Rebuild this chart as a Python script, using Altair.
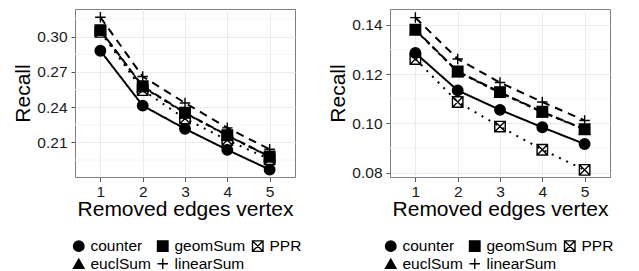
import altair as alt
import pandas as pd

# ---------------- data ----------------
steps = [1, 2, 3, 4, 5]
series_names = ["counter", "euclSum", "geomSum", "linearSum", "PPR"]

left_counter = [0.2880, 0.2413, 0.2216, 0.2037, 0.1869]
left_euclSum = [0.3052, 0.2571, 0.2350, 0.2158, 0.1977]
left_geomSum = [0.3055, 0.2578, 0.2353, 0.2161, 0.1980]
left_linearSum = [0.3165, 0.2661, 0.2436, 0.2224, 0.2042]
left_PPR = [0.3040, 0.2545, 0.2303, 0.2120, 0.1957]

right_counter = [0.1286, 0.1134, 0.1055, 0.0984, 0.0916]
right_euclSum = [0.1379, 0.1209, 0.1125, 0.1045, 0.0975]
right_geomSum = [0.1381, 0.1211, 0.1127, 0.1047, 0.0976]
right_linearSum = [0.1430, 0.1262, 0.1166, 0.1087, 0.1012]
right_PPR = [0.1262, 0.1087, 0.0987, 0.0893, 0.0811]

left_ticks = [0.21, 0.24, 0.27, 0.30]
left_minor = [0.195, 0.225, 0.255, 0.285, 0.315]
left_domain = [0.1806, 0.3235]

right_ticks = [0.08, 0.10, 0.12, 0.14]
right_minor = [0.09, 0.11, 0.13]
right_domain = [0.0782, 0.1465]

PLUS = "M-1,0L1,0M0,-1L0,1"
BOXX = "M-1,-1L1,-1L1,1L-1,1ZM-1,-1L1,1M-1,1L1,-1"
shape_range = ["circle", "triangle-up", "square", PLUS, BOXX]
fill_range = ["black", "black", "black", "transparent", "transparent"]
stroke_range = ["black"] * 5
size_range = [110, 110, 110, 200, 100]

# line types (own domain order so the line scale stays out of the symbol legend)
dash_domain = ["PPR", "counter", "euclSum", "geomSum", "linearSum"]
dash_range = [[2, 6], [1, 0], [4, 4], [8, 4], [8, 6]]

FONT = "Liberation Sans"


def long_df(d, order):
    rows = []
    for s in order:
        for x, v in zip(steps, d[s]):
            rows.append({"step": x, "series": s, "recall": v})
    return pd.DataFrame(rows)


def panel(values, ticks, minor, domain, legend_x):
    line_df = long_df(values, ["counter", "PPR", "euclSum", "geomSum", "linearSum"])
    point_df = long_df(values, ["PPR", "counter", "euclSum", "geomSum", "linearSum"])
    minor_df = pd.DataFrame({"m": minor})

    yscale = alt.Scale(domain=domain, nice=False, zero=False)
    xscale = alt.Scale(type="point", padding=0.6)
    xaxis = alt.Axis(
        title="Removed edges vertex", labelAngle=0, grid=True, gridColor="#EBEBEB",
        domain=False, tickColor="#555555", tickSize=4.5, labelPadding=3,
        labelFont=FONT, labelFontSize=15.5, labelColor="#1a1a1a",
        titleFont=FONT, titleFontSize=21, titleFontWeight="normal",
        titleColor="black", titlePadding=-2,
    )
    yaxis = alt.Axis(
        title="Recall", values=ticks, format=".2f", grid=True, gridColor="#EBEBEB",
        domain=False, tickColor="#555555", tickSize=4, labelPadding=4,
        labelFont=FONT, labelFontSize=15.5, labelColor="#1a1a1a",
        titleFont=FONT, titleFontSize=21, titleFontWeight="normal",
        titleColor="black", titlePadding=3,
    )
    leg = alt.Legend(
        orient="none", legendX=legend_x, legendY=229, columns=3, title=None,
        labelFont=FONT, labelFontSize=15.5, labelColor="black", labelOffset=4,
        columnPadding=3, rowPadding=0, symbolStrokeWidth=1.4,
    )

    rules = alt.Chart(minor_df).mark_rule(color="#F4F4F4", strokeWidth=1).encode(
        y=alt.Y("m:Q", scale=yscale, axis=yaxis)
    )
    lines = alt.Chart(line_df).mark_line(color="black", strokeWidth=2).encode(
        x=alt.X("step:O", scale=xscale, axis=xaxis),
        y=alt.Y("recall:Q", scale=yscale, axis=yaxis),
        strokeDash=alt.StrokeDash(
            "series:N", scale=alt.Scale(domain=dash_domain, range=dash_range), legend=None
        ),
        detail="series:N",
    )
    points = alt.Chart(point_df).mark_point(strokeWidth=1.4, opacity=1).encode(
        x=alt.X("step:O", scale=xscale, axis=xaxis),
        y=alt.Y("recall:Q", scale=yscale, axis=yaxis),
        shape=alt.Shape("series:N", scale=alt.Scale(domain=series_names, range=shape_range), legend=leg),
        fill=alt.Fill("series:N", scale=alt.Scale(domain=series_names, range=fill_range), legend=leg),
        stroke=alt.Stroke("series:N", scale=alt.Scale(domain=series_names, range=stroke_range), legend=leg),
        size=alt.Size("series:N", scale=alt.Scale(domain=series_names, range=size_range), legend=leg),
    )
    return alt.layer(rules, lines, points).properties(width=220, height=168)


left_vals = {
    "counter": left_counter, "euclSum": left_euclSum, "geomSum": left_geomSum,
    "linearSum": left_linearSum, "PPR": left_PPR,
}
right_vals = {
    "counter": right_counter, "euclSum": right_euclSum, "geomSum": right_geomSum,
    "linearSum": right_linearSum, "PPR": right_PPR,
}

left = panel(left_vals, left_ticks, left_minor, left_domain, -4)
right = panel(right_vals, right_ticks, right_minor, right_domain, -7)

chart = (
    alt.hconcat(left, right, spacing=95, bounds="flush")
    .resolve_scale(shape="independent", fill="independent", stroke="independent",
                   size="independent", strokeDash="independent")
    .resolve_legend(shape="independent", fill="independent", stroke="independent",
                    size="independent", strokeDash="independent")
    .properties(padding={"left": 4, "top": 0, "right": 0, "bottom": 0}, background="white")
    .configure_view(stroke="#7F7F7F", strokeWidth=1)
)

chart.save("out.html", embed_options={"renderer": "svg", "actions": False})
